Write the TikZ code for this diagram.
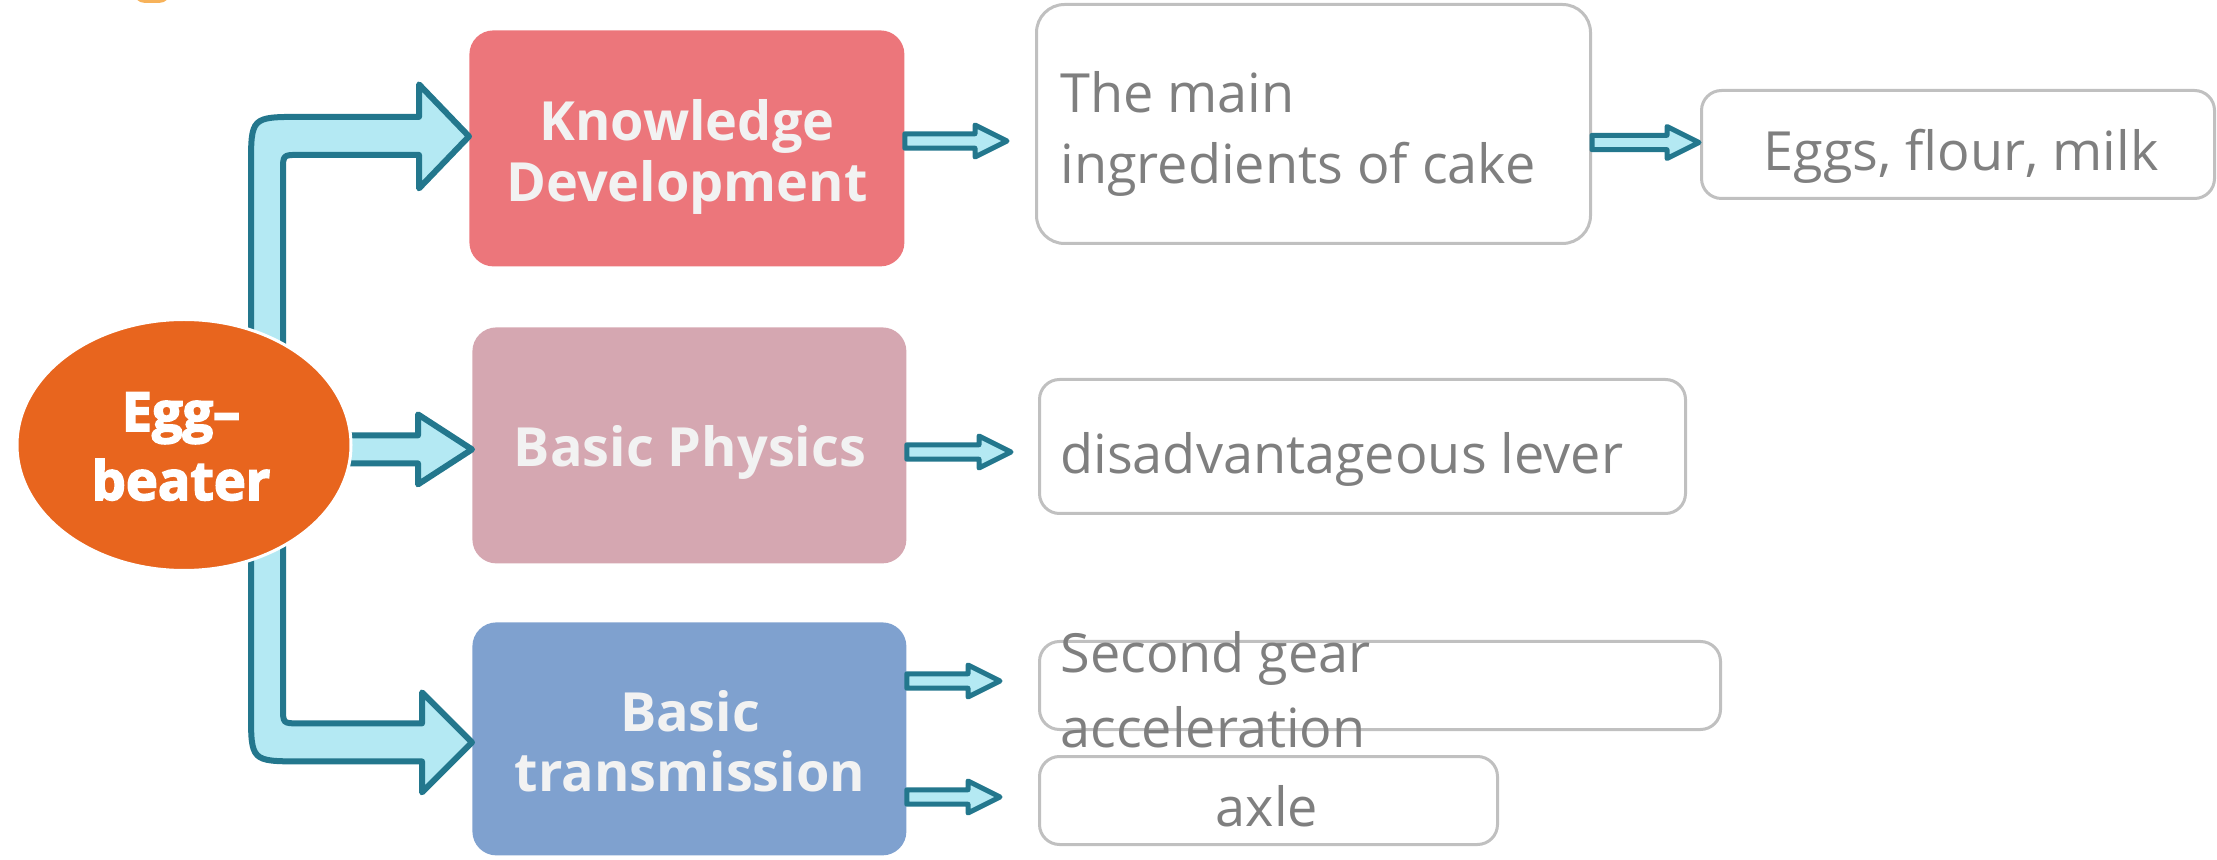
\documentclass[tikz,border=0pt]{standalone}
\usepackage{fontspec}
\setmainfont{Open Sans}
\newfontfamily\eggfont[BoldFont={*}, BoldFeatures={FakeBold=3}]{Open Sans Bold}
\usetikzlibrary{calc,shapes.geometric}
\definecolor{eggc}{HTML}{E8651E}
\definecolor{kdc}{HTML}{EC767B}
\definecolor{bpc}{HTML}{D5A7B1}
\definecolor{btc}{HTML}{7FA1CF}
\definecolor{afill}{HTML}{B4E9F3}
\definecolor{aline}{HTML}{23778D}
\definecolor{gtext}{HTML}{7F7F7F}
\definecolor{gline}{HTML}{C0C0C0}
\definecolor{topor}{HTML}{F7B25A}
\definecolor{boxtext}{HTML}{F2F2F2}
\newcommand\twoc[2]{\begin{tabular}[t]{@{}c@{}}#1\\#2\end{tabular}}
\newcommand\twol[2]{\begin{tabular}[t]{@{}l@{}}#1\\#2\end{tabular}}
\newcommand\sarrow[2]{\path[smallarrow] let \p1=(#1), \p2=(#2) in
  (\x1,\y2+3.6pt) -- (\x2-16pt,\y2+3.6pt) -- (\x2-16pt,\y2+8pt) -- (\x2,\y2)
  -- (\x2-16pt,\y2-8pt) -- (\x2-16pt,\y2-3.6pt) -- (\x1,\y2-3.6pt) -- cycle;}
\begin{document}
\begin{tikzpicture}[x=0.5pt,y=-0.5pt,
  cbox/.style={rectangle, rounded corners=12pt, draw=none, inner sep=0pt, anchor=north west},
  gbox/.style={rectangle, rounded corners=10pt, draw=gline, line width=1.5pt, fill=white, inner sep=0pt, anchor=north west},
  btext/.style={text=boxtext, font=\fontsize{27}{30.5}\selectfont\bfseries, inner sep=0pt, anchor=base},
  etext/.style={text=white, font=\eggfont\fontsize{27}{34.5}\selectfont\bfseries, inner sep=0pt, anchor=base},
  gtxt/.style={text=gtext, font=\fontsize{27}{35.5}\selectfont, inner sep=0pt},
  bigarrow/.style={fill=afill, draw=aline, line width=3pt, line join=round},
  smallarrow/.style={fill=afill, draw=aline, line width=2.5pt, line join=round}]
\useasboundingbox (0,0) rectangle (2217,860);
\fill[topor, rounded corners=6pt] (133,-30) rectangle (171,3);
% category boxes
\node[cbox, fill=kdc, minimum width=217.5pt, minimum height=118pt] (kd) at (469,30) {};
\node[cbox, fill=bpc, minimum width=217pt, minimum height=118pt] (bp) at (472,327) {};
\node[cbox, fill=btc, minimum width=217pt, minimum height=116.5pt] (bt) at (472,622) {};
% grey boxes
\node[gbox, rounded corners=14pt, minimum width=277pt, minimum height=119.5pt] (main) at (1035,3) {};
\node[gbox, minimum width=256.5pt, minimum height=54pt] (eggs) at (1700,89) {};
\node[gbox, minimum width=323pt, minimum height=67pt] (dis) at (1038,378) {};
\node[gbox, minimum width=340.5pt, minimum height=44pt] (sec) at (1038,640) {};
\node[gbox, minimum width=229pt, minimum height=44pt] (axle) at (1038,755) {};
% big arrows
\coordinate (t1) at ([yshift=6pt]kd.west);
\coordinate (t2) at ([yshift=-2pt]bp.west);
\coordinate (t3) at ([yshift=-1.75pt]bt.west);
\path[bigarrow] let \p1=(t1) in (125.5pt,-200pt) -- (125.5pt,\y1-15.25pt)
  .. controls (125.5pt,\y1+9.75pt) .. (150.5pt,\y1+9.75pt) -- (\x1-25pt,\y1+9.75pt)
  -- (\x1-25pt,\y1+26pt) -- (\x1,\y1) -- (\x1-25pt,\y1-26pt) -- (\x1-25pt,\y1-9.25pt)
  -- (149.5pt,\y1-9.25pt) .. controls (141.5pt,\y1-9.25pt) .. (141.5pt,\y1-17.25pt)
  -- (141.5pt,-200pt) -- cycle;
\path[bigarrow] let \p1=(t3) in (125.5pt,-240pt) -- (125.5pt,\y1+15.5pt)
  .. controls (125.5pt,\y1-9.5pt) .. (150.5pt,\y1-9.5pt) -- (\x1-25pt,\y1-9.5pt)
  -- (\x1-25pt,\y1-25pt) -- (\x1,\y1) -- (\x1-25pt,\y1+25pt) -- (\x1-25pt,\y1+9.5pt)
  -- (149.5pt,\y1+9.5pt) .. controls (141.5pt,\y1+9.5pt) .. (141.5pt,\y1+17.5pt)
  -- (141.5pt,-240pt) -- cycle;
\path[bigarrow] let \p1=(t2) in (160pt,\y1+7pt) -- (\x1-27pt,\y1+7pt)
  -- (\x1-27pt,\y1+17.5pt) -- (\x1,\y1) -- (\x1-27pt,\y1-17.5pt)
  -- (\x1-27pt,\y1-7pt) -- (160pt,\y1-7pt) -- cycle;
% ellipse
\node[ellipse, fill=eggc, draw=white, line width=1.5pt, minimum width=167pt, minimum height=125.5pt, inner sep=0pt] (egg) at (184,445) {};
% small arrows
\coordinate (e1) at (1007,141);
\coordinate (e2) at (1011,452);
\coordinate (e3) at (1000,681);
\coordinate (e4) at (1000,797);
\coordinate (e5) at ([xshift=-0.5pt,yshift=1pt]eggs.west);
\sarrow{kd.east}{e1}
\sarrow{bp.east}{e2}
\sarrow{bt.east}{e3}
\sarrow{bt.east}{e4}
\sarrow{main.east}{e5}
% texts
\node[etext] (eggt) at (181,431) {\twoc{Egg–}{beater}};
\node[btext] (kdt) at (687,141) {\twoc{Knowledge}{Development}};
\node[btext] (bpt) at (690,467) {Basic Physics};
\node[btext] (btt) at (690,731) {\twoc{Basic}{transmission}};
\node[gtxt, anchor=base west] (maint) at (1060,113) {\twol{The main}{ingredients of cake}};
\node[gtxt, anchor=base] (eggst) at (1961,171) {Eggs, flour, milk};
\node[gtxt, anchor=base west] (dist) at (1060,474) {disadvantageous lever};
\node[gtxt, anchor=base west, font=\fontsize{27}{37.5}\selectfont] (sect) at (1060,673) {\twol{Second gear}{acceleration}};
\node[gtxt, anchor=base] (axlet) at (1267,826) {axle};
\end{tikzpicture}
\end{document}
